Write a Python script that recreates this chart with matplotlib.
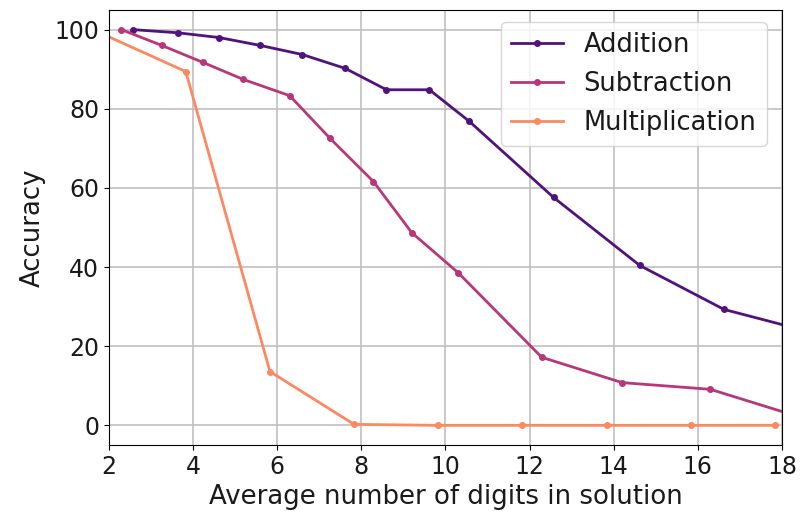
import matplotlib
matplotlib.use("Agg")
import matplotlib.pyplot as plt

# average number of digits in solution vs accuracy
add_x = [2.57, 3.64, 4.62, 5.6, 6.6, 7.62, 8.6, 9.62, 10.57, 12.57, 14.62, 16.62, 18.6]
add_y = [100.0, 99.2, 98.0, 96.0, 93.7, 90.2, 84.8, 84.8, 76.8, 57.6, 40.4, 29.3, 23.8]

sub_x = [2.3, 3.26, 4.24, 5.2, 6.3, 7.26, 8.29, 9.2, 10.3, 12.29, 14.2, 16.3, 18.3]
sub_y = [100.0, 96.0, 91.7, 87.4, 83.3, 72.5, 61.6, 48.7, 38.6, 17.2, 10.8, 9.1, 2.5]

mul_x = [1.83, 3.83, 5.83, 7.83, 9.83, 11.83, 13.83, 15.83, 17.83]
mul_y = [99.0, 89.4, 13.6, 0.25, 0.0, 0.0, 0.0, 0.0, 0.0]

labels = ["Addition", "Subtraction", "Multiplication"]
colors = ["#51127c", "#b73779", "#fc8961"]

plt.rcParams["font.size"] = 17
plt.rcParams["text.color"] = "#1a1a1a"
plt.rcParams["axes.labelcolor"] = "#1a1a1a"
plt.rcParams["xtick.labelcolor"] = "#1a1a1a"
plt.rcParams["ytick.labelcolor"] = "#1a1a1a"

fig = plt.figure(figsize=(8, 5.17), dpi=100)
ax = fig.add_axes([0.136, 0.139, 0.8415, 0.842])

series = [(add_x, add_y), (sub_x, sub_y), (mul_x, mul_y)]
for (xs, ys), lab, col in zip(series, labels, colors):
    ax.plot(xs, ys, marker="o", markersize=4, linewidth=2, color=col, label=lab)

ax.set_xlim(2, 18)
ax.set_ylim(-5, 105)
ax.set_xticks(range(2, 19, 2))
ax.set_yticks(range(0, 101, 20))
ax.grid(True, color="#c0c0c0", linewidth=1.2)
ax.set_axisbelow(True)

ax.set_xlabel("Average number of digits in solution", fontsize=18.7, labelpad=4)
ax.set_ylabel("Accuracy", fontsize=18.7, labelpad=6)

ax.legend(loc="upper right", bbox_to_anchor=(1.0, 1.007), fontsize=18.5,
          handlelength=2, borderaxespad=0.6)

fig.savefig("out.png", dpi=100)
